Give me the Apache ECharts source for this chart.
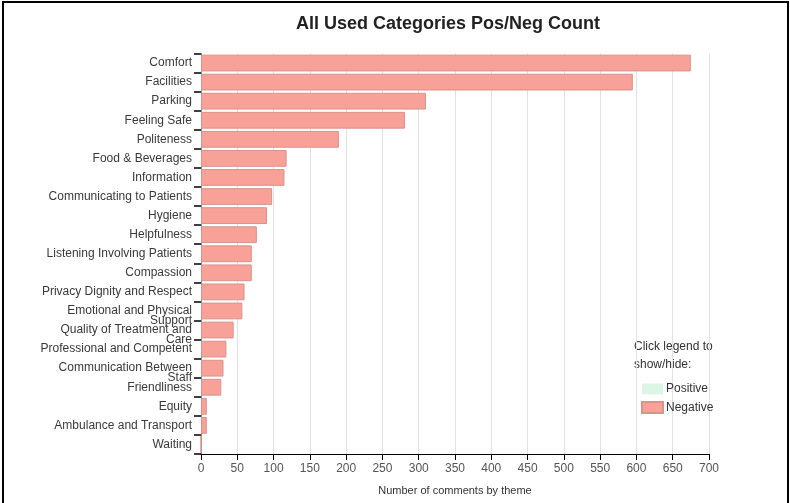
<!DOCTYPE html>
<html>
<head>
<meta charset="utf-8">
<script src="https://cdn.jsdelivr.net/npm/echarts@6/dist/echarts.min.js"></script>
<style>
html,body{margin:0;padding:0;background:#fff;}
#chart{position:absolute;left:0;top:0;width:790px;height:503px;}
#frame{position:absolute;left:2px;top:1px;width:783px;height:520px;border:2px solid #000;pointer-events:none;}
</style>
</head>
<body>
<div id="chart"></div>
<div id="frame"></div>
<script>
const categories = [
  "Comfort","Facilities","Parking","Feeling Safe","Politeness","Food & Beverages",
  "Information","Communicating to Patients","Hygiene","Helpfulness",
  "Listening Involving Patients","Compassion","Privacy Dignity and Respect",
  "Emotional and Physical Support","Quality of Treatment and Care",
  "Professional and Competent","Communication Between Staff","Friendliness",
  "Equity","Ambulance and Transport","Waiting"
];
const negativeValues = [675,595,310,281,190,118,115,98,91,77,70,70,60,57,45,35,31,28,8,8,0];
const positiveValues = [0,0,0,0,0,0,0,0,0,0,0,0,0,0,0,0,0,0,0,0,0];
const wrappedLabels = {
  "Emotional and Physical Support": ["Emotional and Physical","Support"],
  "Quality of Treatment and Care": ["Quality of Treatment and","Care"],
  "Communication Between Staff": ["Communication Between","Staff"]
};
const xTicks = {min:0, max:700, interval:50};

const FONT = "'Liberation Sans', Arial, sans-serif";
const chart = echarts.init(document.getElementById('chart'), null, {renderer:'canvas'});
chart.setOption({
  animation:false,
  backgroundColor:'#fff',
  title:{
    text:'All Used Categories Pos/Neg Count',
    left:291, top:10,
    textStyle:{fontFamily:FONT, fontSize:18, fontWeight:'bold', color:'#222'}
  },
  graphic:[{
    type:'text', left:634, top:338,
    style:{text:'Click legend to\nshow/hide:', font:'12px '+FONT, fill:'#333', lineHeight:18}
  }],
  legend:{
    orient:'vertical', left:641, top:383, padding:0,
    itemWidth:21, itemHeight:11, itemGap:6,
    icon:'rect',
    textStyle:{fontFamily:FONT, fontSize:12, color:'#333', padding:[0,0,0,-2]},
    data:['Positive','Negative']
  },
  grid:{left:201, right:81, top:53.5, bottom:49, containLabel:false},
  xAxis:{
    type:'value', min:xTicks.min, max:xTicks.max, interval:xTicks.interval,
    name:'Number of comments by theme', nameLocation:'middle', nameGap:31,
    nameTextStyle:{fontFamily:FONT, fontSize:11, color:'#333'},
    axisLine:{show:true, lineStyle:{color:'#000', width:1}},
    axisTick:{show:true, length:6, lineStyle:{color:'#000'}},
    axisLabel:{fontFamily:FONT, fontSize:12, color:'#555', margin:9},
    splitLine:{show:true, lineStyle:{color:'#e2e2e2', width:1}}
  },
  yAxis:{
    type:'category', data:categories, inverse:true,
    axisLine:{show:true, lineStyle:{color:'#888', width:1}},
    axisTick:{show:true, length:7, lineStyle:{color:'#000', width:1.5}},
    axisLabel:{
      fontFamily:FONT, fontSize:12, color:'#3a3a3a', margin:9, lineHeight:9.5,
      interval:0,
      formatter:function(v){
        if (wrappedLabels[v]) return '\n' + wrappedLabels[v].join('\n');
        return v;
      }
    },
    splitLine:{show:false}
  },
  series:[
    {name:'Positive', type:'bar', stack:'total', data:positiveValues,
     barCategoryGap:'12%',
     itemStyle:{color:'#dcf5e6', borderColor:'#c8e6d4', borderWidth:0}},
    {name:'Negative', type:'bar', stack:'total', data:negativeValues,
     barCategoryGap:'12%',
     itemStyle:{color:'#f8a198', borderColor:'#d9938a', borderWidth:1}}
  ]
});
</script>
</body>
</html>
